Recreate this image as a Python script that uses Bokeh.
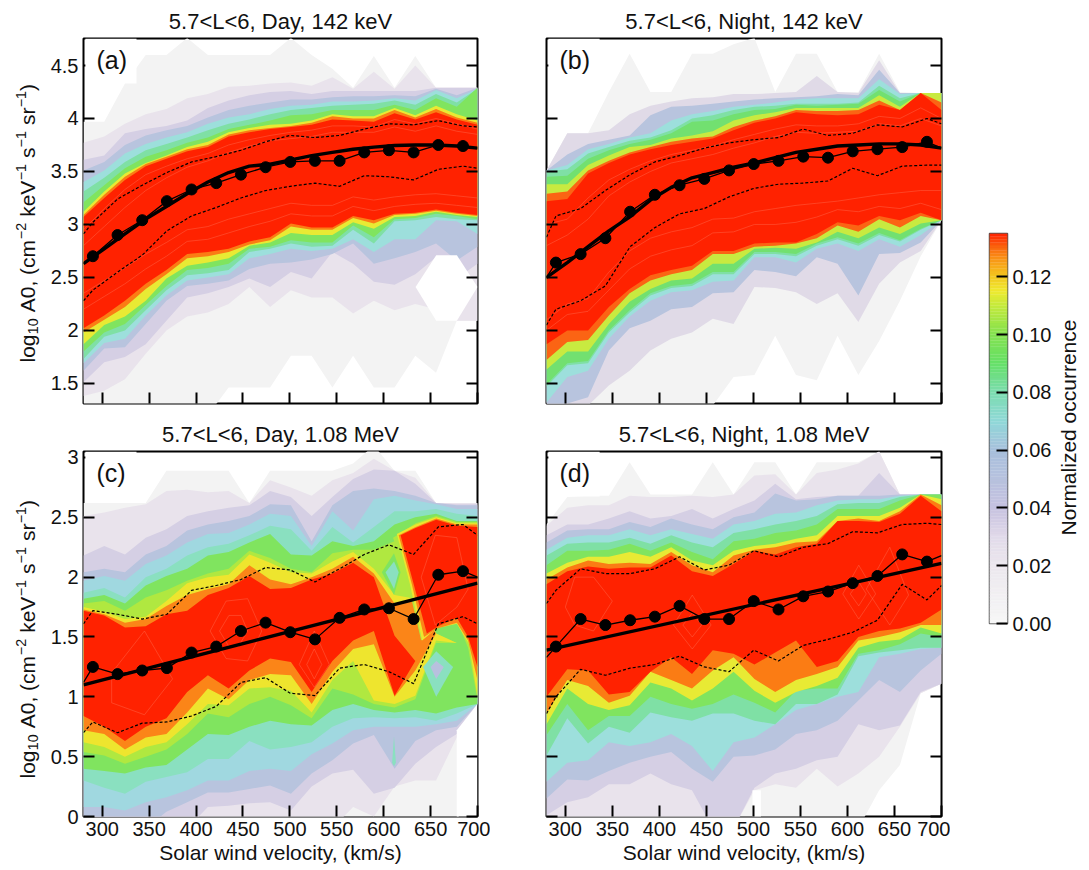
import math
from bokeh.plotting import figure
from bokeh.layouts import row, column
from bokeh.models import Range1d, LinearAxis, FixedTicker, Label, Title, BoxAnnotation
from bokeh.embed import file_html
from bokeh.resources import INLINE

FONT = "Liberation Sans"
GRAY, LIL1, LIL2, BLUE, TEAL, MINT, GREEN, YG, YEL, ORG, RED = (
    "#f3f3f3", "#e9e3ec", "#d5cfe4", "#b8c4de", "#9ddfdc", "#7fe0a5",
    "#80e45f", "#c8ea40", "#e8ea34", "#fb7c14", "#ff2200")

X_GRID = [280, 302.1, 324.2, 346.3, 368.4, 390.5, 412.6, 434.7, 456.8, 478.9,
          501.1, 523.2, 545.3, 567.4, 589.5, 611.6, 633.7, 655.8, 677.9, 700]
DOT_X = [290, 316.3, 342.6, 368.9, 395.2, 421.5, 447.8, 474.1, 500.4, 526.7,
         553, 579.3, 605.6, 631.9, 658.2, 684.5]
LINE_X = [280] + DOT_X + [700]

# ---- panel (a)
A_COLORS = [GRAY, LIL1, LIL2, BLUE, TEAL, MINT, GREEN, YEL, ORG, RED]
A_UP = [
 [3.97,3.97,4.33,4.60,4.60,4.76,4.60,4.60,4.60,4.60,4.76,4.60,4.47,4.29,4.59,4.29,4.59,4.29,4.29,4.29],
 [3.77,3.83,3.95,4.04,4.09,4.19,4.23,4.30,4.31,4.33,4.34,4.31,4.39,4.28,4.44,4.28,4.50,4.29,4.29,4.29],
 [3.61,3.65,3.86,3.90,3.93,3.98,4.10,4.17,4.22,4.25,4.26,4.23,4.26,4.26,4.26,4.26,4.26,4.29,4.29,4.29],
 [3.51,3.59,3.75,3.84,3.89,3.93,4.01,4.08,4.12,4.15,4.18,4.18,4.20,4.21,4.21,4.22,4.21,4.28,4.22,4.29],
 [3.40,3.51,3.67,3.76,3.82,3.87,3.95,4.01,4.04,4.09,4.12,4.13,4.16,4.16,4.17,4.19,4.17,4.27,4.19,4.28],
 [3.31,3.44,3.59,3.70,3.76,3.82,3.89,3.95,3.99,4.04,4.08,4.10,4.12,4.13,4.14,4.17,4.13,4.23,4.15,4.28],
 [3.21,3.37,3.53,3.64,3.70,3.77,3.82,3.90,3.94,3.98,4.03,4.04,4.08,4.08,4.08,4.13,4.08,4.19,4.11,4.29],
 [3.12,3.31,3.48,3.58,3.65,3.73,3.78,3.87,3.91,3.94,3.95,3.98,4.04,4.02,4.02,4.10,4.03,4.12,4.04,3.98],
 [3.09,3.28,3.45,3.57,3.64,3.71,3.75,3.85,3.89,3.91,3.93,3.96,4.02,4.00,4.00,4.08,4.01,4.09,4.01,3.96],
 [3.07,3.25,3.42,3.55,3.62,3.69,3.73,3.83,3.87,3.90,3.92,3.94,3.99,3.98,3.97,4.05,3.99,4.06,3.99,3.94],
]
A_LOW = [
 [1.2,1.2,1.2,1.2,1.2,1.2,1.2,1.46,1.46,1.46,1.76,1.76,1.46,1.76,1.46,1.46,1.76,1.6,2.09,2.09],
 [1.38,1.43,1.54,1.78,2.00,2.13,2.17,2.25,2.41,2.22,2.38,2.31,2.31,2.16,2.28,2.19,2.25,2.20,2.09,2.09],
 [1.51,1.70,1.75,1.87,2.09,2.31,2.35,2.41,2.49,2.41,2.55,2.49,2.74,2.63,2.46,2.43,2.53,2.69,2.49,2.63],
 [1.62,1.83,1.84,2.06,2.28,2.42,2.44,2.47,2.58,2.63,2.64,2.67,2.72,2.82,2.63,2.68,2.74,2.82,2.66,2.79],
 [1.69,1.88,1.92,2.14,2.33,2.47,2.50,2.53,2.68,2.72,2.77,2.75,2.77,2.86,2.74,2.86,2.86,3.04,3.03,2.91],
 [1.73,1.94,2.00,2.19,2.38,2.52,2.54,2.57,2.74,2.77,2.82,2.79,2.80,2.95,2.82,3.03,3.04,3.07,3.05,3.04],
 [1.80,1.98,2.06,2.24,2.42,2.57,2.59,2.63,2.77,2.79,2.85,2.83,2.83,2.99,2.88,3.05,3.06,3.10,3.08,3.05],
 [1.87,2.05,2.13,2.28,2.49,2.61,2.64,2.68,2.80,2.83,2.92,2.90,2.90,3.02,2.96,3.07,3.08,3.12,3.09,3.07],
 [1.98,2.10,2.22,2.39,2.53,2.68,2.70,2.74,2.81,2.85,2.98,2.95,2.95,3.06,3.01,3.09,3.10,3.13,3.10,3.08],
 [2.02,2.14,2.28,2.44,2.57,2.72,2.74,2.77,2.84,2.88,3.01,2.97,2.97,3.08,3.04,3.10,3.11,3.14,3.11,3.09],
]
A_EXTRA = [("#ffffff", [634, 656, 678, 700, 678, 656], [2.41, 2.71, 2.71, 2.41, 2.09, 2.09])]
A_DOTS = [2.70,2.90,3.04,3.22,3.33,3.39,3.47,3.54,3.59,3.60,3.60,3.68,3.70,3.68,3.75,3.74]
A_LINE_ENDS = (2.63, 3.72)
A_FIT = [2.63,2.77,2.91,3.05,3.17,3.29,3.40,3.49,3.55,3.57,3.61,3.65,3.68,3.71,3.73,3.745,3.75,3.75,3.74,3.72]
A_DU = [2.91,3.02,3.24,3.37,3.49,3.59,3.64,3.70,3.78,3.84,3.82,3.84,3.90,3.95,3.94,3.98,3.93,3.92]
A_DL = [2.28,2.38,2.55,2.71,2.94,3.08,3.16,3.25,3.32,3.36,3.39,3.36,3.46,3.45,3.42,3.52,3.55,3.53]
A_RIBS = [
 (X_GRID, [2.95,3.15,3.33,3.47,3.55,3.62,3.67,3.75,3.80,3.84,3.87,3.89,3.93,3.93,3.92,3.99,3.95,4.00,3.95,3.90]),
 (X_GRID, [2.20,2.32,2.44,2.58,2.70,2.84,2.86,2.92,2.98,3.03,3.10,3.08,3.08,3.17,3.13,3.17,3.19,3.20,3.18,3.16]),
 (X_GRID, [2.35,2.47,2.59,2.72,2.83,2.95,2.98,3.05,3.10,3.15,3.20,3.18,3.18,3.26,3.23,3.26,3.28,3.29,3.27,3.25]),
 (X_GRID, [2.80,2.98,3.16,3.32,3.44,3.54,3.60,3.68,3.74,3.79,3.81,3.83,3.87,3.87,3.87,3.92,3.88,3.93,3.88,3.85]),
]

# ---- panel (b)
B_COLORS = [GRAY, "#e0dae7", BLUE, TEAL, MINT, "#72e070", YG, "#fb6414", RED]
B_UP = [
 [3.51,3.86,3.86,4.25,4.61,4.25,4.25,4.61,4.61,4.70,4.76,4.25,4.61,4.61,4.25,4.25,4.61,4.25,4.24,4.24],
 [3.51,3.86,3.86,3.89,4.04,4.12,4.16,4.19,4.20,4.23,4.23,4.24,4.25,4.40,4.25,4.24,4.55,4.24,4.24,4.24],
 [3.51,3.66,3.76,3.80,3.84,4.03,4.11,4.12,4.14,4.16,4.18,4.19,4.20,4.21,4.23,4.22,4.46,4.24,4.24,4.24],
 [3.51,3.56,3.71,3.76,3.82,3.86,3.98,4.04,4.07,4.11,4.13,4.15,4.18,4.19,4.19,4.19,4.37,4.23,4.24,4.24],
 [3.50,3.52,3.67,3.73,3.79,3.82,3.89,4.00,4.03,4.08,4.11,4.12,4.14,4.14,4.14,4.15,4.31,4.19,4.24,4.24],
 [3.45,3.46,3.62,3.70,3.76,3.80,3.86,3.97,3.98,4.04,4.08,4.09,4.13,4.12,4.13,4.14,4.27,4.16,4.24,4.24],
 [3.38,3.38,3.56,3.65,3.73,3.75,3.81,3.84,3.88,3.98,4.03,4.06,4.10,4.10,4.10,4.10,4.22,4.11,4.24,4.24],
 [3.29,3.31,3.51,3.60,3.68,3.73,3.78,3.81,3.83,3.92,3.98,4.02,4.08,4.07,4.07,4.08,4.17,4.08,4.24,4.15],
 [3.22,3.24,3.48,3.58,3.66,3.71,3.75,3.78,3.81,3.89,3.96,4.00,4.06,4.04,4.03,4.04,4.13,4.08,4.24,4.08],
]
B_LOW = [
 [1.2,1.2,1.2,1.2,1.2,1.2,1.2,1.2,1.29,1.56,1.58,1.95,1.58,1.53,1.95,1.58,1.90,2.28,2.70,3.04],
 [1.2,1.2,1.29,1.48,1.62,1.81,1.92,1.98,2.11,2.06,2.41,2.40,2.36,2.25,2.35,2.08,2.44,2.64,2.75,3.04],
 [1.29,1.31,1.37,1.81,2.02,2.09,2.20,2.22,2.35,2.36,2.57,2.55,2.51,2.69,2.63,2.33,2.72,2.73,2.83,3.04],
 [1.32,1.56,1.62,1.92,2.13,2.28,2.36,2.38,2.46,2.47,2.69,2.69,2.64,2.77,2.82,2.75,2.86,2.79,2.90,3.04],
 [1.47,1.67,1.69,1.98,2.17,2.33,2.40,2.42,2.53,2.53,2.72,2.72,2.70,2.80,2.86,2.80,2.90,2.84,2.95,3.04],
 [1.49,1.69,1.71,2.00,2.19,2.35,2.42,2.44,2.55,2.55,2.74,2.74,2.72,2.82,2.88,2.82,2.92,2.85,2.96,3.04],
 [1.63,1.80,1.80,2.06,2.27,2.39,2.47,2.49,2.63,2.63,2.77,2.78,2.77,2.83,2.93,2.87,2.97,2.91,3.01,3.04],
 [1.72,1.89,1.91,2.14,2.35,2.47,2.53,2.57,2.72,2.72,2.79,2.80,2.82,2.87,2.99,2.93,3.05,2.97,3.08,3.04],
 [1.87,2.00,2.00,2.22,2.39,2.52,2.57,2.61,2.75,2.75,2.82,2.83,2.83,2.91,3.02,2.99,3.08,3.04,3.11,3.04],
]
B_EXTRA = []
B_DOTS = [2.64,2.72,2.87,3.12,3.28,3.37,3.43,3.51,3.57,3.60,3.64,3.63,3.69,3.71,3.73,3.78]
B_LINE_ENDS = (2.50, 3.72)
B_FIT = [2.50,2.64,2.79,2.94,3.07,3.23,3.35,3.44,3.49,3.54,3.58,3.63,3.68,3.71,3.74,3.75,3.76,3.76,3.75,3.72]
B_DU = [2.88,3.08,3.15,3.32,3.47,3.59,3.65,3.72,3.77,3.80,3.82,3.90,3.84,3.86,3.94,3.92,4.00,3.95]
B_DL = [2.05,2.20,2.28,2.42,2.79,2.97,3.10,3.15,3.26,3.34,3.38,3.39,3.41,3.53,3.46,3.55,3.56,3.56]
B_RIBS = [
 (X_GRID, [2.10,2.25,2.30,2.55,2.75,2.87,2.93,2.97,3.05,3.06,3.12,3.15,3.18,3.20,3.22,3.25,3.28,3.30,3.32,3.32]),
 (X_GRID, [2.00,2.15,2.18,2.38,2.58,2.70,2.76,2.80,2.92,2.93,3.00,3.00,3.02,3.07,3.14,3.12,3.17,3.15,3.20,3.14]),
 (X_GRID, [3.00,3.05,3.25,3.42,3.52,3.60,3.66,3.70,3.74,3.80,3.85,3.90,3.94,3.93,3.93,3.95,4.02,4.00,4.10,4.00]),
 (X_GRID, [2.80,2.90,3.05,3.27,3.40,3.50,3.58,3.62,3.66,3.72,3.77,3.83,3.87,3.86,3.87,3.88,3.95,3.93,4.00,3.93]),
]

# ---- panel (c)
C_COLORS = [GRAY, LIL1, LIL2, BLUE, "#a0d8e0", "#8ae0c0", GREEN, "#b0e840", "#eee52e", "#fb8518", RED]
C_UP = [
 [2.62,2.62,2.62,2.62,2.89,2.89,2.89,2.89,2.62,2.89,2.89,2.89,2.89,2.95,3.10,2.89,2.89,2.62,2.62,2.62],
 [2.51,2.54,2.58,2.61,2.72,2.73,2.71,2.72,2.62,2.81,2.75,2.68,2.81,2.87,2.99,2.89,2.83,2.62,2.62,2.62],
 [2.18,2.26,2.19,2.33,2.40,2.51,2.55,2.58,2.60,2.72,2.67,2.51,2.67,2.82,2.90,2.89,2.78,2.62,2.61,2.61],
 [2.04,2.07,2.04,2.19,2.26,2.39,2.44,2.47,2.51,2.61,2.60,2.30,2.60,2.72,2.74,2.72,2.68,2.62,2.60,2.60],
 [1.97,2.01,1.97,2.11,2.18,2.29,2.36,2.37,2.44,2.53,2.51,2.26,2.55,2.39,2.65,2.68,2.64,2.61,2.57,2.57],
 [1.87,1.91,1.83,2.00,2.07,2.18,2.25,2.28,2.35,2.43,2.40,2.22,2.42,2.29,2.42,2.55,2.55,2.57,2.53,2.51],
 [1.82,1.85,1.78,1.93,2.01,2.07,2.18,2.21,2.29,2.36,2.19,2.18,2.30,2.26,2.30,2.44,2.50,2.53,2.47,2.47],
 [1.78,1.80,1.72,1.83,1.89,1.97,2.03,2.07,2.22,2.16,2.07,2.04,2.20,2.23,2.23,2.30,1.85,1.53,1.45,1.45],
 [1.75,1.71,1.65,1.67,1.80,1.95,2.00,2.02,2.19,2.12,2.04,2.03,2.13,2.21,2.07,1.85,1.82,1.53,1.45,1.45],
 [1.73,1.69,1.62,1.65,1.76,1.85,1.90,1.94,2.10,1.98,1.94,2.00,2.07,2.17,2.03,1.78,1.80,1.53,1.45,1.45],
 [1.72,1.68,1.58,1.59,1.69,1.72,1.85,1.91,2.01,1.90,1.91,1.98,2.03,2.12,2.00,1.51,1.30,1.45,1.45,1.45],
]
C_LOW = [
 [-.1,-.1,-.1,-.1,-.1,-.1,-.1,-.1,-.1,-.1,-.1,-.1,-.1,-.1,-.1,-.1,-.1,-.1,-.1,.94],
 [-.1,-.1,-.1,-.1,-.1,-.1,-.1,-.1,-.1,-.1,-.1,-.1,-.1,.08,0,.25,.30,.30,.66,.94],
 [-.1,-.1,-.1,-.1,-.1,-.1,.08,.09,.11,.12,.05,.25,.36,.39,.19,.24,.44,.58,.69,.94],
 [-.1,-.1,-.1,-.1,.04,.12,.20,.20,.23,.26,.19,.36,.47,.61,.68,.40,.63,.72,.75,.94],
 [.08,.08,.05,.12,.16,.22,.30,.30,.38,.40,.38,.52,.61,.72,.75,.75,.75,.77,.80,.94],
 [.30,.24,.19,.29,.33,.37,.48,.48,.63,.56,.58,.62,.75,.82,.83,.82,.83,.80,.86,.94],
 [.40,.38,.36,.41,.43,.56,.69,.68,.75,.80,.77,.76,.89,.94,.89,.87,.89,.86,.91,.94],
 [.54,.51,.44,.50,.56,.69,.86,.83,.94,1.00,.93,.82,1.07,1.02,.94,.91,.98,1.45,1.45,1.45],
 [.62,.58,.50,.58,.62,.77,.94,.93,1.07,1.08,1.05,.87,1.14,1.30,.97,.94,1.01,1.47,1.45,1.45],
 [.72,.69,.56,.66,.69,.87,1.07,.98,1.14,1.19,1.18,.94,1.21,1.40,1.44,1.00,1.22,1.53,1.45,1.45],
 [.84,.75,.63,.75,.82,1.04,1.18,1.07,1.22,1.32,1.29,1.04,1.30,1.47,1.55,1.01,1.30,1.45,1.45,1.45],
]
C_EXTRA = [
 ("#ffffff", [677.9, 700, 700, 677.9], [.72, .94, -.1, -.1]),
 (GREEN, [598, 611, 618, 611], [2.04, 2.20, 2.04, 1.85]),
 ("#8ae0c0", [602, 611, 616, 611], [2.04, 2.13, 2.04, 1.90]),
 ("#8ae0c0", [642, 656, 674, 656], [1.25, 1.38, 1.25, 1.00]),
 ("#b8c0de", [650, 656, 664, 656], [1.25, 1.30, 1.25, 1.15]),
 ("#8ae0c0", [609, 611, 613, 611], [.45, .67, .45, .42]),
 ("#b0e840", [610, 634, 656, 678, 700, 700, 690, 678, 656, 640, 625], [2.33, 2.45, 2.51, 2.46, 2.46, .97, 1.41, 1.64, 1.58, 1.47, 1.97]),
 ("#eee52e", [614, 634, 656, 678, 700, 700, 691, 678, 656, 641, 628], [2.36, 2.44, 2.50, 2.45, 2.45, 1.00, 1.44, 1.61, 1.57, 1.47, 1.94]),
 ("#fb8518", [616, 634, 656, 678, 700, 700, 690, 678, 657, 643, 630], [2.35, 2.42, 2.49, 2.44, 2.44, 1.14, 1.47, 1.62, 1.57, 1.50, 1.94]),
 (RED, [618, 634, 656, 678, 700, 700, 690, 678, 658, 646, 632], [2.35, 2.41, 2.48, 2.43, 2.42, 1.25, 1.50, 1.66, 1.59, 1.53, 1.94]),
]
C_DOTS = [1.25,1.19,1.22,1.24,1.37,1.42,1.55,1.62,1.54,1.48,1.66,1.73,1.74,1.65,2.02,2.05]
C_LINE_ENDS = (1.12, 2.00)
C_FIT_X = [280, 700]
C_FIT = [1.10, 1.95]
C_DU = [1.61,1.72,1.69,1.65,1.69,1.89,1.93,1.98,2.08,2.06,1.96,2.07,2.19,2.27,2.19,2.42,2.44,2.35]
C_DL = [.70,.79,.70,.78,.79,.84,.92,1.12,1.16,1.03,1.01,1.24,1.27,1.21,1.11,1.61,1.67,1.61]
C_RIBS = [
 ([415, 432, 455, 470, 455, 432, 415], [1.55, 1.80, 1.82, 1.55, 1.30, 1.32, 1.55]),
 ([425, 435, 448, 455, 445, 435, 425], [1.55, 1.68, 1.68, 1.55, 1.42, 1.42, 1.55]),
 ([510, 526, 542, 526, 510], [1.27, 1.55, 1.27, 1.08, 1.27]),
 ([518, 526, 534, 526, 518], [1.27, 1.40, 1.27, 1.15, 1.27]),
 ([310, 345, 375, 345, 310, 310], [1.20, 1.55, 1.15, .85, .95, 1.20]),
 ([640, 655, 678, 690, 678, 655, 640], [2.0, 2.35, 2.33, 1.9, 1.75, 1.6, 2.0]),
]

# ---- panel (d)
D_COLORS = [GRAY, LIL1, LIL2, BLUE, TEAL, MINT, GREEN, YEL, ORG, RED]
D_UP = [
 [2.44,2.67,2.68,2.68,2.96,2.69,2.69,2.69,2.96,2.69,2.96,2.96,2.69,2.96,2.96,2.96,3.05,2.69,2.69,2.69],
 [2.43,2.58,2.60,2.60,2.68,2.67,2.67,2.68,2.67,2.69,2.85,2.86,2.69,2.87,2.90,2.95,3.05,2.69,2.69,2.69],
 [2.35,2.44,2.44,2.49,2.55,2.49,2.51,2.57,2.49,2.57,2.64,2.78,2.65,2.67,2.68,2.68,2.87,2.69,2.69,2.69],
 [2.29,2.39,2.40,2.40,2.46,2.42,2.49,2.44,2.40,2.50,2.54,2.70,2.64,2.65,2.68,2.68,2.68,2.69,2.69,2.69],
 [2.23,2.33,2.35,2.35,2.40,2.35,2.40,2.36,2.32,2.44,2.47,2.53,2.54,2.60,2.64,2.65,2.65,2.68,2.69,2.69],
 [2.18,2.28,2.29,2.29,2.33,2.28,2.35,2.29,2.25,2.37,2.40,2.44,2.47,2.51,2.61,2.62,2.62,2.67,2.69,2.69],
 [2.10,2.22,2.22,2.23,2.28,2.22,2.29,2.21,2.15,2.30,2.32,2.37,2.39,2.44,2.57,2.57,2.57,2.64,2.69,2.69],
 [2.03,2.12,2.17,2.17,2.21,2.17,2.25,2.14,2.10,2.22,2.26,2.28,2.32,2.35,2.51,2.51,2.51,2.58,2.69,2.65],
 [1.98,2.08,2.14,2.11,2.12,2.11,2.21,2.10,2.04,2.18,2.23,2.25,2.29,2.30,2.47,2.49,2.47,2.55,2.69,2.60],
 [1.94,2.05,2.09,2.07,2.08,2.08,2.18,2.05,2.01,2.11,2.22,2.19,2.25,2.28,2.47,2.47,2.46,2.53,2.68,2.55],
]
D_LOW = [
 [-.1,-.1,-.1,-.1,-.1,-.1,-.1,-.1,-.1,-.1,-.1,-.1,-.1,-.1,-.1,-.1,.22,.43,1.03,1.11],
 [-.1,-.1,-.1,-.1,-.1,-.1,-.1,-.1,-.1,-.1,.22,.27,.24,.40,.25,.36,.50,.75,1.03,1.11],
 [.01,.12,.16,.27,.27,.36,.27,.22,-.1,-.1,.24,.36,.40,.47,.50,.77,.72,.76,1.04,1.11],
 [.15,.31,.30,.38,.45,.50,.54,.40,.29,.50,.51,.56,.69,.72,.80,.97,1.14,1.04,1.22,1.36],
 [.29,.45,.47,.62,.59,.62,.69,.59,.38,.62,.66,.77,.89,.94,1.00,1.04,1.33,1.36,1.40,1.41],
 [.51,.82,.61,.75,.70,.87,.83,.80,.86,.86,.80,.77,.94,.94,1.02,1.34,1.37,1.39,1.41,1.41],
 [.68,.94,.72,.84,.84,1.00,.94,.90,.94,1.02,.95,.87,1.05,1.07,1.07,1.36,1.39,1.44,1.53,1.50],
 [.77,1.07,.94,.89,.93,1.12,1.07,.97,1.07,1.21,1.05,.95,1.04,1.09,1.16,1.41,1.46,1.48,1.58,1.53],
 [.86,1.14,1.09,.95,1.01,1.21,1.14,1.07,1.22,1.33,1.15,1.04,1.14,1.19,1.25,1.47,1.50,1.54,1.60,1.60],
 [1.00,1.23,1.22,1.02,1.04,1.21,1.33,1.19,1.39,1.36,1.27,1.37,1.47,1.25,1.30,1.50,1.55,1.57,1.62,1.73],
]
D_EXTRA = [("#ffffff", [499, 508, 508, 499], [.22, .22, -.1, -.1])]
D_DOTS = [1.42,1.65,1.60,1.64,1.67,1.76,1.65,1.65,1.80,1.73,1.84,1.88,1.95,2.01,2.19,2.13]
D_LINE_ENDS = (1.33, 2.18)
D_FIT_X = [280, 700]
D_FIT = [1.39, 2.115]
D_DU = [1.78,1.89,2.07,2.03,2.03,2.07,2.17,2.06,2.10,2.22,2.17,2.25,2.28,2.38,2.37,2.44,2.45,2.44]
D_DL = [.86,1.00,1.23,1.18,1.24,1.27,1.34,1.25,1.21,1.39,1.30,1.43,1.48,1.54,1.64,1.94,1.81,1.93]
D_RIBS = [
 ([595, 612, 630, 612, 595], [1.86, 2.10, 1.86, 1.65, 1.86]),
 ([603, 612, 620, 612, 603], [1.86, 1.96, 1.86, 1.76, 1.86]),
 ([415, 435, 455, 435, 415], [1.60, 1.85, 1.60, 1.40, 1.60]),
 ([425, 435, 445, 435, 425], [1.60, 1.70, 1.60, 1.50, 1.60]),
 ([300, 310, 330, 350, 330, 310, 300], [1.75, 2.0, 2.0, 1.8, 1.55, 1.6, 1.75]),
 ([620, 645, 665, 645, 620], [1.90, 2.25, 1.85, 1.60, 1.90]),
]

X_TICKS = [300, 350, 400, 450, 500, 550, 600, 650, 700]
Y_TICKS_TOP = {1.5: "1.5", 2: "2", 2.5: "2.5", 3: "3", 3.5: "3.5", 4: "4", 4.5: "4.5"}
Y_TICKS_BOT = {0: "0", 0.5: "0.5", 1: "1", 1.5: "1.5", 2: "2", 2.5: "2.5", 3: "3"}
CB_TICKS = {0.0: "0.00", 0.02: "0.02", 0.04: "0.04", 0.06: "0.06", 0.08: "0.08", 0.10: "0.10", 0.12: "0.12"}
CB_STOPS = [(0, "#f7f7f7"), (.02, "#ece8ee"), (.03, "#e2daea"), (.04, "#c6c2e0"), (.06, "#a8c0dc"),
            (.07, "#90d8d8"), (.08, "#7cdcb0"), (.09, "#66e068"), (.10, "#84e250"), (.11, "#c4ea3c"),
            (.115, "#eeea30"), (.12, "#f4c820"), (.125, "#f8a018"), (.13, "#fa6a10"), (.135, "#ff2200")]

TICK_FS = "20px"
TITLE_FS = "22px"
LABEL_FS = "21px"
WID = {'l': .222, 'o': .556, 'g': .556, '1': .556, '0': .556, '2': .556, ' ': .278, 'A': .667, ',': .278,
       '(': .333, 'c': .5, 'm': .833, '\u2212': .584, 'k': .5, 'e': .556, 'V': .667, 's': .5, 'r': .333, ')': .333}


def strip(w, h, top=0, bottom=0):
    s = figure(frame_width=w, frame_height=h, min_border_left=0, min_border_right=0, min_border_top=top,
               min_border_bottom=bottom, x_range=Range1d(0, w), y_range=Range1d(0, h),
               output_backend="svg", toolbar_location=None, x_axis_type=None, y_axis_type=None)
    s.xgrid.visible = False
    s.ygrid.visible = False
    s.outline_line_color = None
    return s


def ylabel(p, y_start):
    fs = 21.0
    pieces = [("log", 0), ("10", 1), (" A0, (cm", 0), ("\u22122", 2), (" keV", 0), ("\u22121", 2),
              (" s", 0), ("\u22121", 2), (" sr", 0), ("\u22121", 2), (")", 0)]
    base = {0: 35, 1: 38, 2: 26}
    y = y_start
    for txt, kind in pieces:
        size = fs if kind == 0 else fs * 0.68
        lead = len(txt) - len(txt.lstrip())
        y += lead * WID[' '] * size * 1.01
        body = txt.lstrip()
        w = sum(WID[ch] for ch in body) * size * 1.01
        p.add_layout(Label(x=base[kind] - 0.38 * size, y=y, x_units="screen", y_units="screen", text=body,
                           angle=math.pi / 2, text_font=FONT, text_font_size=f"{size:.1f}px",
                           text_align="left", text_baseline="alphabetic", text_color="#111111"))
        y += w


def panel(letter, title, colors, up, low, extra, ribs, dots, ends, fit_x, fit, du, dl, yr, yticks,
          show_x, show_y, bl, br, bt, bb, fw, fh):
    p = figure(frame_width=fw, frame_height=fh, min_border_left=bl, min_border_right=br, min_border_top=bt,
               min_border_bottom=bb, x_range=Range1d(280, 700), y_range=Range1d(*yr), output_backend="svg",
               toolbar_location=None, x_axis_type=None, y_axis_type=None)
    p.background_fill_color = "white"
    p.xgrid.visible = False
    p.ygrid.visible = False
    for c, u, l in zip(colors, up, low):
        p.varea(X_GRID, y1=l, y2=u, fill_color=c)
    for c, xs, ys in extra:
        p.patch(xs, ys, fill_color=c, line_color=None)
    for xs, ys in ribs:
        p.line(xs, ys, line_color="#ff7a5c", line_width=0.7, line_alpha=0.55)
    line_y = [ends[0]] + dots + [ends[1]]
    p.line(LINE_X, du, line_color="black", line_width=1.2, line_dash="3 2")
    p.line(LINE_X, dl, line_color="black", line_width=1.2, line_dash="3 2")
    p.line(LINE_X, line_y, line_color="black", line_width=1.3)
    p.line(fit_x, fit, line_color="black", line_width=3.4)
    p.scatter(DOT_X, dots, marker="circle", size=11, fill_color="black", line_color="black")

    def style(ax, ticks, labels):
        ax.ticker = FixedTicker(ticks=list(ticks))
        ax.major_label_overrides = {t: (labels[t] if labels else "") for t in ticks}
        ax.axis_line_color = None
        ax.major_tick_in = 11
        ax.major_tick_out = 0
        ax.major_tick_line_color = "black"
        ax.major_tick_line_width = 2
        ax.minor_tick_line_color = None
        ax.major_label_text_font = FONT
        ax.major_label_text_font_size = TICK_FS if labels else "1px"
        ax.major_label_text_color = "#111111"
        ax.major_label_standoff = 5 if labels else 0

    xa = LinearAxis()
    style(xa, X_TICKS, {t: str(t) for t in X_TICKS} if show_x else None)
    if show_x:
        xa.axis_label = "Solar wind velocity, (km/s)"
        xa.axis_label_text_font = FONT
        xa.axis_label_text_font_style = "normal"
        xa.axis_label_text_font_size = LABEL_FS
        xa.axis_label_text_color = "#111111"
        xa.axis_label_standoff = 2
    p.add_layout(xa, "below")
    ya = LinearAxis()
    style(ya, yticks.keys(), yticks if show_y else None)
    p.add_layout(ya, "left")
    yr2 = LinearAxis()
    style(yr2, yticks.keys(), None)
    p.add_layout(yr2, "right")
    p.outline_line_color = "black"
    p.outline_line_width = 2
    p.outline_line_alpha = 1
    p.add_layout(Title(text=title, align="center", text_font=FONT, text_font_size=TITLE_FS,
                       text_font_style="normal", text_color="#111111", standoff=9), "above")
    # white box behind the panel letter, as in the reference
    box_h = (yr[1] - yr[0]) * 45 / fh
    p.add_layout(BoxAnnotation(left=282, right=336.5, top=yr[1], bottom=yr[1] - box_h, fill_color="white",
                               fill_alpha=1, line_color=None, level="annotation"))
    p.add_layout(Label(x=13, y=fh - 21.5, x_units="screen", y_units="screen", text=letter, text_font=FONT,
                       text_font_size="25px", text_align="left", text_baseline="alphabetic", text_color="#111111"))
    return p


STRIP_W = 40
BL_A, BR_A, BL_B, BR_B = 83 - STRIP_W, 13, 56, 9
TOP_T, BOT_T, TOP_B, BOT_B = 38, 12, 36, 50
FW, FH = 394, 365

pa = panel("(a)", "5.7<L<6, Day, 142 keV", A_COLORS, A_UP, A_LOW, A_EXTRA, A_RIBS, A_DOTS, A_LINE_ENDS, X_GRID, A_FIT,
           A_DU, A_DL, (1.31, 4.755), Y_TICKS_TOP, False, True, BL_A, BR_A, TOP_T, BOT_T, FW, FH)
pb = panel("(b)", "5.7<L<6, Night, 142 keV", B_COLORS, B_UP, B_LOW, B_EXTRA, B_RIBS, B_DOTS, B_LINE_ENDS, X_GRID, B_FIT,
           B_DU, B_DL, (1.31, 4.755), Y_TICKS_TOP, False, False, BL_B, BR_B, TOP_T, BOT_T, FW + 1, FH)
pc = panel("(c)", "5.7<L<6, Day, 1.08 MeV", C_COLORS, C_UP, C_LOW, C_EXTRA, C_RIBS, C_DOTS, C_LINE_ENDS, C_FIT_X, C_FIT,
           C_DU, C_DL, (0, 3.05), Y_TICKS_BOT, True, True, BL_A, BR_A, TOP_B, BOT_B, FW, FH)
pd_ = panel("(d)", "5.7<L<6, Night, 1.08 MeV", D_COLORS, D_UP, D_LOW, D_EXTRA, D_RIBS, D_DOTS, D_LINE_ENDS, D_FIT_X, D_FIT,
            D_DU, D_DL, (0, 3.05), Y_TICKS_BOT, True, False, BL_B, BR_B, TOP_B, BOT_B, FW + 1, FH)

sa = strip(STRIP_W, TOP_T + FH + BOT_T)
sc = strip(STRIP_W, TOP_B + FH + BOT_B)
ylabel(sa, TOP_T + FH + BOT_T - 362)
ylabel(sc, 866 - 778)


def mix(v):
    for (a, ca), (b, cb_) in zip(CB_STOPS, CB_STOPS[1:]):
        if a <= v <= b:
            t = (v - a) / (b - a)
            rgb = [round(int(ca[i:i+2], 16) * (1 - t) + int(cb_[i:i+2], 16) * t) for i in (1, 3, 5)]
            return "#%02x%02x%02x" % tuple(rgb)
    return CB_STOPS[-1][1]


CB_N = 135
cb_bot = [i * 0.001 for i in range(CB_N)]
cb_top = [(i + 1) * 0.001 for i in range(CB_N)]
cb_col = [mix((i + .5) * 0.001) for i in range(CB_N)]
cb = figure(frame_width=18, frame_height=390, min_border_left=39, min_border_right=47, min_border_top=233,
            min_border_bottom=10, x_range=Range1d(0, 1), y_range=Range1d(0, 0.135), output_backend="svg",
            toolbar_location=None, x_axis_type=None, y_axis_type=None)
cb.xgrid.visible = False
cb.ygrid.visible = False
cb.quad(left=0, right=1, bottom=cb_bot, top=cb_top, fill_color=cb_col, line_color=cb_col, line_width=0.3)
cax = LinearAxis()
cax.ticker = FixedTicker(ticks=list(CB_TICKS))
cax.major_label_overrides = CB_TICKS
cax.axis_line_color = None
cax.major_tick_in = 11
cax.major_tick_out = 0
cax.major_tick_line_width = 2
cax.major_tick_line_color = "black"
cax.minor_tick_line_color = None
cax.major_label_text_font = FONT
cax.major_label_text_font_size = TICK_FS
cax.major_label_text_color = "#111111"
cax.major_label_standoff = 5
cb.add_layout(cax, "right")
cb.outline_line_color = "#555555"
cb.outline_line_width = 1.5

sr = strip(31, 390, top=233, bottom=10)
sr.add_layout(Label(x=14, y=196, x_units="screen", y_units="screen", text="Normalized occurrence",
                    angle=math.pi / 2, text_font=FONT, text_font_size=LABEL_FS, text_align="center",
                    text_baseline="middle", text_color="#111111"))

layout = row(column(sa, sc), column(pa, pc), column(pb, pd_), cb, sr)
open("out.html", "w").write(file_html(layout, INLINE))
